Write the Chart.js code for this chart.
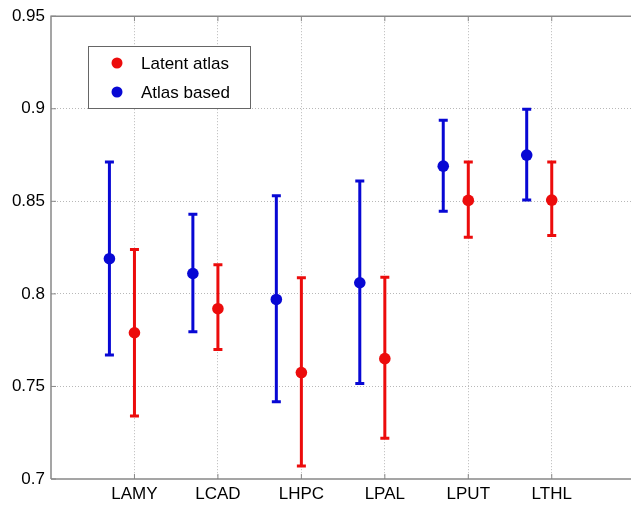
<!DOCTYPE html>
<html>
<head>
<meta charset="utf-8">
<script src="https://cdn.jsdelivr.net/npm/chart.js@4.4.1/dist/chart.umd.min.js"></script>
<style>
  html, body { margin: 0; padding: 0; background: #fff; overflow: hidden; }
  #wrap { width: 641px; height: 508px; }
</style>
</head>
<body>
<div id="wrap"><canvas id="c" width="641" height="508"></canvas></div>
<script>
// categories and values
const categories = ['LAMY', 'LCAD', 'LHPC', 'LPAL', 'LPUT', 'LTHL'];
const yTicks = [0.7, 0.75, 0.8, 0.85, 0.9, 0.95];

const latentMean = [0.779, 0.792, 0.7575, 0.765, 0.8505, 0.8507];
const latentLow  = [0.734, 0.770, 0.707, 0.722, 0.8306, 0.8315];
const latentHigh = [0.824, 0.8157, 0.8087, 0.809, 0.8712, 0.8712];

const atlasMean = [0.819, 0.811, 0.797, 0.806, 0.869, 0.875];
const atlasLow  = [0.767, 0.7796, 0.7417, 0.7516, 0.8446, 0.8507];
const atlasHigh = [0.8713, 0.843, 0.853, 0.861, 0.8938, 0.8997];

const RED = '#ec0c0c';
const BLUE = '#0808d4';
const atlasShift = -0.3; // blue markers sit left of each category

const FONT = '"Liberation Sans", Arial, sans-serif';

function points(means, shift) {
  return means.map((m, i) => ({ x: i + 1 + shift, y: m }));
}

// error bars + frame + legend
const decorations = {
  id: 'decorations',
  beforeDatasetsDraw(chart) {
    const { ctx, scales: { x, y } } = chart;
    const series = [
      [atlasMean, atlasLow, atlasHigh, atlasShift, BLUE],
      [latentMean, latentLow, latentHigh, 0, RED]
    ];
    ctx.save();
    ctx.lineWidth = 3;
    for (const [mean, lo, hi, shift, col] of series) {
      ctx.strokeStyle = col;
      mean.forEach((m, i) => {
        const px = x.getPixelForValue(i + 1 + shift);
        const top = y.getPixelForValue(hi[i]);
        const bot = y.getPixelForValue(lo[i]);
        ctx.beginPath();
        ctx.moveTo(px, top); ctx.lineTo(px, bot);
        ctx.moveTo(px - 4.5, top); ctx.lineTo(px + 4.5, top);
        ctx.moveTo(px - 4.5, bot); ctx.lineTo(px + 4.5, bot);
        ctx.stroke();
      });
    }
    ctx.restore();
  },
  afterDraw(chart) {
    const { ctx, chartArea: a, scales: { x, y } } = chart;
    ctx.save();
    ctx.strokeStyle = '#888';
    ctx.lineWidth = 1.5;
    ctx.beginPath();
    ctx.moveTo(a.left, a.bottom); ctx.lineTo(a.left, a.top); ctx.lineTo(a.right, a.top);
    ctx.moveTo(a.left, a.bottom); ctx.lineTo(a.right, a.bottom);
    ctx.stroke();
    // inward ticks
    ctx.lineWidth = 1;
    ctx.beginPath();
    for (let i = 1; i <= categories.length; i++) {
      const px = x.getPixelForValue(i);
      ctx.moveTo(px, a.bottom); ctx.lineTo(px, a.bottom - 5);
      ctx.moveTo(px, a.top); ctx.lineTo(px, a.top + 5);
    }
    yTicks.forEach(v => {
      const py = y.getPixelForValue(v);
      ctx.moveTo(a.left, py); ctx.lineTo(a.left + 5, py);
    });
    ctx.stroke();

    // legend box
    const lx = 88, ly = 46, lw = 162, lh = 62;
    ctx.fillStyle = '#fff';
    ctx.fillRect(lx, ly, lw, lh);
    ctx.strokeStyle = '#666';
    ctx.lineWidth = 1;
    ctx.strokeRect(lx + 0.5, ly + 0.5, lw, lh);
    const items = [['Latent atlas', RED], ['Atlas based', BLUE]];
    ctx.font = '17px ' + FONT;
    ctx.textBaseline = 'middle';
    items.forEach(([label, col], k) => {
      const cy = ly + 17 + k * 29;
      ctx.fillStyle = col;
      ctx.beginPath();
      ctx.arc(lx + 29, cy, 5.5, 0, Math.PI * 2);
      ctx.fill();
      ctx.fillStyle = '#000';
      ctx.fillText(label, lx + 53, cy + 1);
    });
    ctx.restore();
  }
};

new Chart(document.getElementById('c'), {
  type: 'scatter',
  data: {
    datasets: [
      { label: 'Atlas based', data: points(atlasMean, atlasShift), backgroundColor: BLUE, borderColor: BLUE, pointRadius: 5.8, borderWidth: 0 },
      { label: 'Latent atlas', data: points(latentMean, 0), backgroundColor: RED, borderColor: RED, pointRadius: 5.8, borderWidth: 0 }
    ]
  },
  plugins: [decorations],
  options: {
    responsive: false,
    animation: false,
    events: [],
    layout: { padding: { top: 15, right: 1, left: 0, bottom: 0 } },
    plugins: { legend: { display: false }, tooltip: { enabled: false } },
    scales: {
      x: {
        type: 'linear',
        min: 0,
        max: 7,
        afterFit: s => { s.height = 29; },
        afterBuildTicks: s => { s.ticks = [0, 1, 2, 3, 4, 5, 6, 7].map(v => ({ value: v })); },
        ticks: {
          callback: v => categories[v - 1] || '',
          font: { family: FONT, size: 17 },
          color: '#000',
          padding: 5,
          maxRotation: 0,
          autoSkip: false
        },
        grid: {
          drawTicks: false,
          color: c => (c.tick && c.tick.value > 0 && c.tick.value < 7) ? '#b8b8b8' : 'rgba(0,0,0,0)',
          lineWidth: 1
        },
        border: { display: false, dash: [1, 2] }
      },
      y: {
        min: 0.7,
        max: 0.95,
        afterFit: s => { s.width = 51; },
        afterBuildTicks: s => { s.ticks = yTicks.map(v => ({ value: v })); },
        ticks: {
          callback: v => String(Math.round(v * 100) / 100),
          font: { family: FONT, size: 17 },
          color: '#000',
          padding: 6
        },
        grid: {
          drawTicks: false,
          color: c => (c.tick && c.tick.value > 0.7 && c.tick.value < 0.95) ? '#b8b8b8' : 'rgba(0,0,0,0)',
          lineWidth: 1
        },
        border: { display: false, dash: [1, 2] }
      }
    }
  }
});
</script>
</body>
</html>
